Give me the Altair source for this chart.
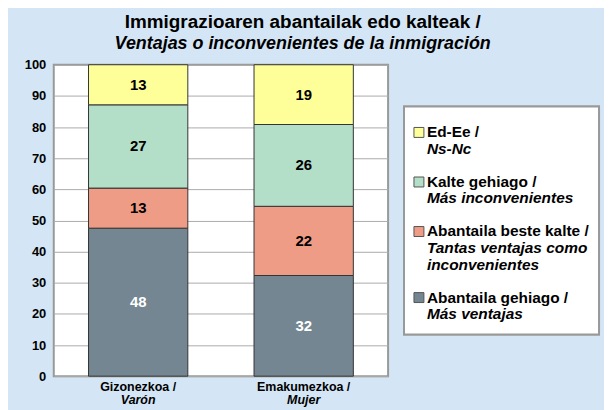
import altair as alt
import pandas as pd

# ---- data ----
groups = ["Gizonezkoa /", "Emakumezkoa /"]
groups_es = ["Varón", "Mujer"]
categories = ["Abantaila gehiago", "Abantaila beste kalte", "Kalte gehiago", "Ed-Ee"]
colors = ["#748691", "#ef9c86", "#b3dec8", "#ffff99"]
varon = [48, 13, 27, 13]
mujer = [32, 22, 26, 19]
y_ticks = [0, 10, 20, 30, 40, 50, 60, 70, 80, 90, 100]

legend_lines = [
    ["Ed-Ee /", "Ns-Nc"],
    ["Kalte gehiago /", "Más inconvenientes"],
    ["Abantaila beste kalte /", "Tantas ventajas como", "inconvenientes"],
    ["Abantaila gehiago /", "Más ventajas"],
]
legend_cats = ["Ed-Ee", "Kalte gehiago", "Abantaila beste kalte", "Abantaila gehiago"]

FONT = "Liberation Sans"

rows = []
for g, vals in zip(groups, [varon, mujer]):
    for i, (c, v) in enumerate(zip(categories, vals)):
        rows.append({"group": g, "cat": c, "idx": i, "value": v})
df = pd.DataFrame(rows)

df_lab = pd.DataFrame([{"group": g, "es": e} for g, e in zip(groups, groups_es)])

leg_rows = []
k = 0
for cat, lines in zip(legend_cats, legend_lines):
    for j, t in enumerate(lines):
        leg_rows.append({"cat": cat, "text": t, "k": k, "first": j == 0})
        k += 1
    k += 1
df_leg = pd.DataFrame(leg_rows)

color_scale = alt.Scale(domain=categories, range=colors)
x_scale = alt.Scale(domain=groups, paddingInner=0.4, paddingOuter=0.21)
y_scale = alt.Scale(domain=[0, 100])
y_axis = alt.Axis(values=y_ticks, title=None, ticks=False, domain=False, labelOverlap=False,
                  grid=True, gridColor="#aaaaaa", gridWidth=1,
                  labelFont=FONT, labelFontSize=13, labelFontWeight="bold",
                  labelColor="black", labelPadding=8)

base = alt.Chart(df).transform_joinaggregate(
    total="sum(value)", groupby=["group"]
).transform_calculate(
    pct="datum.value / datum.total * 100"
).transform_stack(
    stack="pct", groupby=["group"], sort=[alt.SortField("idx", order="ascending")], as_=["y0", "y1"]
).transform_calculate(
    mid="(datum.y0 + datum.y1) / 2"
)

bars = base.mark_bar(stroke="#333333", strokeWidth=1).encode(
    x=alt.X("group:N", scale=x_scale, axis=None),
    y=alt.Y("y0:Q", scale=y_scale, axis=y_axis),
    y2="y1:Q",
    color=alt.Color("cat:N", scale=color_scale, legend=None),
)

labels = base.mark_text(font=FONT, fontSize=15, fontWeight="bold", baseline="middle").encode(
    x=alt.X("group:N", scale=x_scale, axis=None),
    y=alt.Y("mid:Q", scale=y_scale, axis=y_axis),
    text=alt.Text("value:Q"),
    color=alt.condition("datum.idx == 0", alt.value("white"), alt.value("black")),
)

xl1 = alt.Chart(df_lab).mark_text(font=FONT, fontSize=12.5, fontWeight="bold", color="black",
                                  baseline="middle").encode(
    x=alt.X("group:N", scale=x_scale, axis=None), y=alt.value(324), text="group:N")
xl2 = alt.Chart(df_lab).mark_text(font=FONT, fontSize=12.5, fontWeight="bold", fontStyle="italic",
                                  color="black", baseline="middle").encode(
    x=alt.X("group:N", scale=x_scale, axis=None), y=alt.value(337), text="es:N")

left = alt.layer(bars, labels, xl1, xl2).properties(
    width=336, height=313,
    view=alt.ViewBackground(fill="white", stroke="#999999", strokeWidth=2),
)

# ---- legend panel ----
leg_y = alt.Scale(domain=[-4.1, 14.76], reverse=True)
box = alt.Chart(df_lab).mark_rect(fill="white", stroke="#999999", strokeWidth=2).encode(
    x=alt.value(0), x2=alt.value(196), y=alt.value(42), y2=alt.value(271))
sq = alt.Chart(df_leg).transform_filter("datum.first").mark_square(
    size=100, opacity=1, stroke="#555555", strokeWidth=1).encode(
    x=alt.value(15),
    y=alt.Y("k:Q", scale=leg_y, axis=None),
    color=alt.Color("cat:N", scale=color_scale, legend=None),
)
t1 = alt.Chart(df_leg).transform_filter("datum.first").mark_text(
    font=FONT, fontSize=15.5, fontWeight="bold", align="left", baseline="middle", color="black").encode(
    x=alt.value(23), y=alt.Y("k:Q", scale=leg_y, axis=None), text="text:N")
t2 = alt.Chart(df_leg).transform_filter("!datum.first").mark_text(
    font=FONT, fontSize=15.5, fontWeight="bold", fontStyle="italic", align="left",
    baseline="middle", color="black").encode(
    x=alt.value(23), y=alt.Y("k:Q", scale=leg_y, axis=None), text="text:N")

right = alt.layer(box, sq, t1, t2).properties(
    width=196, height=313,
    view=alt.ViewBackground(fill=None, stroke=None),
)

chart = alt.hconcat(left, right, spacing=14).properties(
    title=alt.TitleParams(
        text="Immigrazioaren abantailak edo kalteak /",
        subtitle="Ventajas o inconvenientes de la inmigración",
        anchor="middle", font=FONT, subtitleFont=FONT, dx=-9,
        fontSize=19, subtitleFontSize=18, fontWeight="bold", subtitleFontWeight="bold",
        subtitleFontStyle="italic", color="black", subtitleColor="black",
        subtitlePadding=3, offset=5,
    ),
    padding={"left": 15, "top": 4, "right": 4, "bottom": 6},
).configure(background="#d4e6f5")

chart.save("out.html", embed_options={"renderer": "svg", "actions": False})
